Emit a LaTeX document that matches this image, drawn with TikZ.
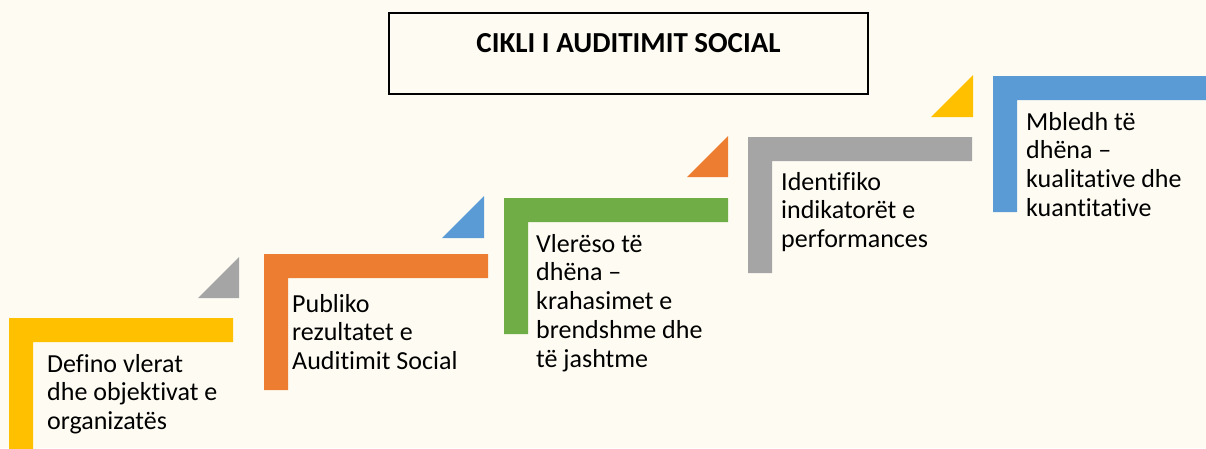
\documentclass[tikz,border=0pt]{standalone}
\usepackage{fontspec}
\setmainfont[Ligatures=NoCommon]{Carlito}
\definecolor{bgc}{HTML}{FEFBF2}
\definecolor{cyel}{HTML}{FFC000}
\definecolor{cora}{HTML}{ED7D31}
\definecolor{cgrn}{HTML}{70AD47}
\definecolor{cgry}{HTML}{A5A5A5}
\definecolor{cblu}{HTML}{5B9BD5}
\tikzset{
  steptext/.style={anchor=base west, inner sep=0pt, align=left, text=black,
    font=\fontsize{26}{28.8}\selectfont},
  titletext/.style={anchor=base, inner sep=0pt, text=black,
    font=\fontsize{29}{32}\selectfont\bfseries}
}
\newcommand{\Lshape}[3]{% color, x0, y0
  \fill[#1] (#2,#3) -- ++(224,0) -- ++(0,24) -- ++(-200,0) -- ++(0,112) -- ++(-24,0) -- cycle;}
\begin{document}
\begin{tikzpicture}[x=1pt,y=-1pt]
\useasboundingbox (0,0) rectangle (1206,448);
\fill[bgc] (0,0) rectangle (1206,448);
\clip (0,0) rectangle (1206,448);
% title
\draw[line width=1.3pt, fill=bgc] (389,13) rectangle (868,94);
\node[titletext] (title) at (628.5,52) {CIKLI I AUDITIMIT SOCIAL};
% L shapes
\Lshape{cyel}{9}{318}
\Lshape{cora}{264}{254}
\Lshape{cgrn}{504}{198}
\Lshape{cgry}{748}{137}
\Lshape{cblu}{993}{76}
% triangles
\fill[cgry] (198,298) -- (239,298) -- (239,257) -- cycle;
\fill[cblu] (442,238) -- (484,238) -- (484,196) -- cycle;
\fill[cora] (687,177) -- (728,177) -- (728,136) -- cycle;
\fill[cyel] (931,117) -- (973,117) -- (973,75) -- cycle;
% texts (anchored at the baseline of the last line)
\node[steptext] (t1) at (47,429.6) {Defino vlerat\\dhe objektivat e\\organizatës};
\node[steptext] (t2) at (292,369.6) {Publiko\\rezultatet e\\Auditimit Social};
\node[steptext] (t3) at (536,367.2) {Vlerëso të\\dhëna –\\krahasimet e\\brendshme dhe\\të jashtme};
\node[steptext] (t4) at (781,247.6) {Identifiko\\indikatorët e\\performances};
\node[steptext] (t5) at (1026,216.4) {Mbledh të\\dhëna –\\kualitative dhe\\kuantitative};
\end{tikzpicture}
\end{document}
